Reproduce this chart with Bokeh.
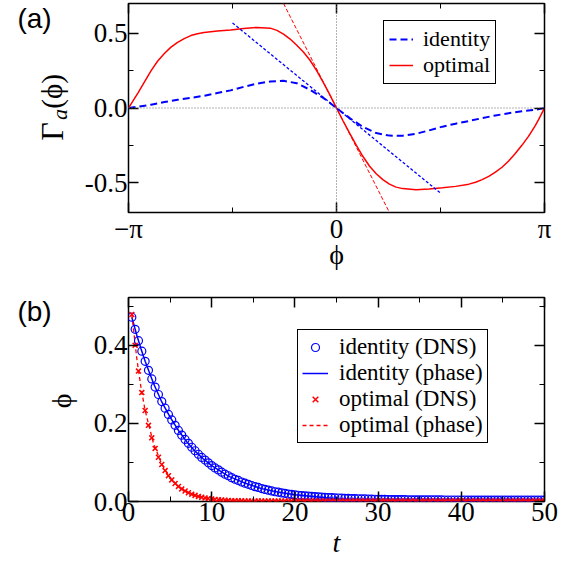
import numpy as np
from bokeh.plotting import figure
from bokeh.models import (Range1d, FixedTicker, LinearAxis, Span, CustomJSTickFormatter,
                          NumeralTickFormatter, Legend, LegendItem)
from bokeh.layouts import column, row
from bokeh.core.properties import value
from bokeh.embed import file_html
from bokeh.resources import INLINE

PI = np.pi
SERIF = "Liberation Serif"
SANS = "Liberation Sans"
BLUE = "#0000ff"
RED = "#ff0000"
PHI = "\u03d5"

# ---------------- panel (a) data ----------------
phi_identity = [-PI, -3.0, -2.8, -2.6, -2.4, -2.2, -2.0, -1.8, -1.6, -1.4, -1.2,
                -1.0, -0.8, -0.6, -0.4, -0.2, 0.0, 0.2, 0.4, 0.6, 0.8, 1.0, 1.2,
                1.4, 1.6, 1.8, 2.0, 2.2, 2.4, 2.6, 2.8, 3.0, PI]
gamma_identity = [0.0, 0.008, 0.022, 0.040, 0.055, 0.068, 0.082, 0.100, 0.118,
                  0.142, 0.163, 0.178, 0.182, 0.166, 0.122, 0.068, 0.0,
                  -0.068, -0.127, -0.168, -0.185, -0.186, -0.173, -0.150,
                  -0.125, -0.105, -0.087, -0.068, -0.050, -0.035, -0.022,
                  -0.012, 0.0]
phi_optimal = [-PI, -3.05, -3.0, -2.9, -2.8, -2.7, -2.6, -2.5, -2.4, -2.3, -2.2,
               -2.1, -2.0, -1.8, -1.6, -1.4, -1.2, -1.0, -0.9, -0.8, -0.7, -0.6,
               -0.5, -0.4, -0.3, -0.2, -0.1, 0.0, 0.1, 0.2, 0.3, 0.4, 0.5, 0.6,
               0.7, 0.8, 0.9, 1.0, 1.2, 1.4, 1.6, 1.8, 2.0, 2.1, 2.2, 2.3, 2.4,
               2.5, 2.6, 2.7, 2.8, 2.9, 3.0, 3.05, PI]
gamma_optimal = [0.0, 0.065, 0.100, 0.175, 0.250, 0.315, 0.365, 0.408, 0.440,
                 0.465, 0.485, 0.497, 0.505, 0.515, 0.523, 0.533, 0.540, 0.535,
                 0.520, 0.495, 0.462, 0.420, 0.375, 0.320, 0.250, 0.172, 0.088,
                 0.0, -0.087, -0.170, -0.250, -0.325, -0.390, -0.440, -0.480,
                 -0.510, -0.530, -0.540, -0.547, -0.543, -0.535, -0.525, -0.510,
                 -0.497, -0.480, -0.458, -0.430, -0.397, -0.355, -0.305, -0.250,
                 -0.190, -0.120, -0.080, 0.0]
tangent_identity_phi = [-PI / 2, PI / 2]
tangent_identity_val = [0.57, -0.57]
tangent_optimal_phi = [-0.80, 0.80]
tangent_optimal_val = [0.70, -0.70]

# ---------------- panel (b) data ----------------
t_dns = np.round(np.arange(1, 126) * 0.4, 1)
phi_identity_dns = [
    0.472, 0.441, 0.412, 0.385, 0.359, 0.336, 0.314, 0.293, 0.274, 0.256,
    0.239, 0.223, 0.209, 0.195, 0.182, 0.170, 0.159, 0.149, 0.139, 0.130,
    0.121, 0.113, 0.106, 0.099, 0.092, 0.086, 0.081, 0.075, 0.070, 0.066,
    0.061, 0.057, 0.054, 0.050, 0.047, 0.044, 0.041, 0.038, 0.036, 0.033,
    0.031, 0.029, 0.027, 0.025, 0.024, 0.022, 0.021, 0.019, 0.018, 0.017,
    0.0160, 0.0152, 0.0145, 0.0138, 0.0131, 0.0125, 0.0119, 0.0113, 0.0108, 0.0103,
    0.0098, 0.0094, 0.0090, 0.0086, 0.0082, 0.0079, 0.0076, 0.0073, 0.0070, 0.0067,
    0.0065, 0.0062, 0.0060, 0.0058, 0.0056, 0.0054, 0.0053, 0.0051, 0.0050, 0.0049,
    0.0048, 0.0047, 0.0046, 0.0045, 0.0044, 0.0043, 0.0043, 0.0042, 0.0042, 0.0041,
    0.0041, 0.0040, 0.0040, 0.0040, 0.0039, 0.0039, 0.0039, 0.0038, 0.0038, 0.0038,
    0.0038, 0.0037, 0.0037, 0.0037, 0.0037, 0.0036, 0.0036, 0.0036, 0.0036, 0.0036,
    0.0035, 0.0035, 0.0035, 0.0035, 0.0035, 0.0034, 0.0034, 0.0034, 0.0034, 0.0034,
    0.0034, 0.0034, 0.0033, 0.0033, 0.0033]
phi_optimal_dns = [
    0.479, 0.400, 0.334, 0.279, 0.233, 0.195, 0.163, 0.136, 0.1135, 0.0948,
    0.0792, 0.0662, 0.0553, 0.0462, 0.0386, 0.0322, 0.0269, 0.0225, 0.0188, 0.0157,
    0.0131, 0.0109, 0.0091, 0.0076, 0.0064, 0.0053, 0.0044, 0.0037, 0.0031, 0.0026,
    0.0022, 0.0019, 0.0017, 0.0016, 0.0015, 0.0014, 0.0013, 0.0013, 0.0012, 0.0012,
    0.0011, 0.0012, 0.0011, 0.0010, 0.0011, 0.0012, 0.0011, 0.0010, 0.0011, 0.0011,
    0.0012, 0.0011, 0.0010, 0.0011, 0.0012, 0.0011, 0.0010, 0.0011, 0.0011, 0.0012,
    0.0011, 0.0010, 0.0011, 0.0012, 0.0011, 0.0010, 0.0011, 0.0011, 0.0012, 0.0011,
    0.0010, 0.0011, 0.0012, 0.0011, 0.0010, 0.0011, 0.0011, 0.0012, 0.0011, 0.0010,
    0.0011, 0.0012, 0.0011, 0.0010, 0.0011, 0.0011, 0.0012, 0.0011, 0.0010, 0.0011,
    0.0012, 0.0011, 0.0010, 0.0011, 0.0011, 0.0012, 0.0011, 0.0010, 0.0011, 0.0012,
    0.0011, 0.0010, 0.0011, 0.0011, 0.0012, 0.0011, 0.0010, 0.0011, 0.0012, 0.0011,
    0.0010, 0.0011, 0.0011, 0.0012, 0.0011, 0.0010, 0.0011, 0.0012, 0.0011, 0.0010,
    0.0011, 0.0011, 0.0012, 0.0011, 0.0010]
t_phase = [0.4, 1, 1.5, 2, 3, 4, 5, 6, 7, 8, 9, 10, 12, 14, 16, 18, 20, 25, 30,
           35, 40, 45, 50]
phi_identity_phase = [0.472, 0.426, 0.391, 0.359, 0.303, 0.255, 0.216, 0.182,
                      0.153, 0.129, 0.109, 0.092, 0.065, 0.047, 0.033, 0.024,
                      0.017, 0.0072, 0.0031, 0.0013, 0.0006, 0.0002, 0.0001]
phi_optimal_phase = [0.479, 0.366, 0.292, 0.233, 0.149, 0.095, 0.060, 0.039,
                     0.025, 0.016, 0.010, 0.0064, 0.0026, 0.0011, 0.0004,
                     0.0002, 0.0001, 0.0, 0.0, 0.0, 0.0, 0.0, 0.0]

SIDE_W = 78
LEFT_B = 128 - SIDE_W
MAIN_W = LEFT_B + 416 + 18


def style_axis(ax, ticks, minor, show_labels=True):
    ax.ticker = FixedTicker(ticks=ticks, minor_ticks=minor)
    ax.axis_line_color = None
    ax.major_tick_in = 10
    ax.major_tick_out = 0
    ax.minor_tick_in = 5
    ax.minor_tick_out = 0
    ax.major_tick_line_color = "black"
    ax.major_tick_line_width = 1.5
    ax.minor_tick_line_color = "black"
    ax.minor_tick_line_width = 1
    ax.major_label_text_font = SERIF
    ax.major_label_text_font_size = "27px"
    ax.major_label_text_color = "black"
    ax.major_label_standoff = 1
    ax.axis_label_text_font = SERIF
    ax.axis_label_text_font_size = "28px"
    ax.axis_label_text_color = "black"
    ax.axis_label_text_font_style = "normal"
    if not show_labels:
        ax.formatter = CustomJSTickFormatter(code="return ''")
        ax.major_label_standoff = 0


def base_fig(height, xr, yr, top, bottom):
    p = figure(width=MAIN_W, height=height, x_range=xr, y_range=yr,
               output_backend="svg", toolbar_location=None,
               min_border_left=LEFT_B, min_border_right=18,
               min_border_top=top, min_border_bottom=bottom)
    p.grid.visible = False
    p.outline_line_color = "black"
    p.outline_line_width = 1.5
    p.outline_line_alpha = 1.0
    p.background_fill_color = "white"
    p.border_fill_color = "white"
    return p


def side_fig(height, yr, top, bottom):
    s = figure(width=SIDE_W, height=height, x_range=Range1d(0, SIDE_W),
               y_range=yr, output_backend="svg", toolbar_location=None,
               min_border_left=0, min_border_right=0,
               min_border_top=top, min_border_bottom=bottom)
    s.xaxis.visible = False
    s.yaxis.visible = False
    s.grid.visible = False
    s.outline_line_color = None
    s.background_fill_color = "white"
    s.border_fill_color = "white"
    return s


def side_text(s, x, y, txt, size, font=SERIF, style="normal", angle=0.0,
              align="center", baseline="middle"):
    s.text(x=[x], y=[y], text=[txt], text_font=value(font),
           text_font_size=value(size), text_font_style=style,
           text_color="black", angle=angle, text_align=align,
           text_baseline=baseline)


# ---------------- panel (a) ----------------
TOP_H, TOP_T, TOP_B = 280, 3, 68
p1 = base_fig(TOP_H, Range1d(-PI, PI), Range1d(-0.7, 0.7), TOP_T, TOP_B)
xt1, xm1 = [-PI, 0.0, PI], [-PI / 2, PI / 2]
yt1, ym1 = [-0.5, 0.0, 0.5], [-0.25, 0.25]
style_axis(p1.xaxis[0], xt1, xm1)
p1.xaxis[0].major_label_overrides = {-PI: "\u2212\u03c0", 0.0: "0", PI: "\u03c0"}
p1.xaxis[0].axis_label = PHI
p1.xaxis[0].axis_label_standoff = -8
style_axis(p1.yaxis[0], yt1, ym1)
p1.yaxis[0].formatter = NumeralTickFormatter(format="0.0")
ax_top = LinearAxis()
style_axis(ax_top, xt1, xm1, show_labels=False)
p1.add_layout(ax_top, "above")
ax_right = LinearAxis()
style_axis(ax_right, yt1, ym1, show_labels=False)
p1.add_layout(ax_right, "right")

p1.add_layout(Span(location=0, dimension="width", line_color="#666666",
                   line_dash="1 2", line_width=1))
p1.add_layout(Span(location=0, dimension="height", line_color="#666666",
                   line_dash="1 2", line_width=1))

r_id = p1.line(phi_identity, gamma_identity, line_color=BLUE, line_width=2,
               line_dash="7 4")
r_opt = p1.line(phi_optimal, gamma_optimal, line_color=RED, line_width=1.5)
p1.line(tangent_identity_phi, tangent_identity_val, line_color=BLUE,
        line_width=1.3, line_dash="3 2")
p1.line(tangent_optimal_phi, tangent_optimal_val, line_color=RED,
        line_width=1, line_dash="4 2")

leg1 = Legend(items=[LegendItem(label="identity", renderers=[r_id]),
                     LegendItem(label="optimal", renderers=[r_opt])],
              location=(255, 128))
leg1.label_text_font = SERIF
leg1.label_text_font_size = "22px"
leg1.label_text_color = "black"
leg1.glyph_width = 24
leg1.glyph_height = 20
leg1.label_height = 25
leg1.label_standoff = 10
leg1.padding = 5
leg1.spacing = 0
leg1.margin = 0
leg1.border_line_color = "black"
leg1.border_line_width = 1
leg1.border_line_alpha = 1
leg1.background_fill_alpha = 1
p1.add_layout(leg1)

s1 = side_fig(TOP_H, Range1d(-0.7, 0.7), TOP_T, TOP_B)
side_text(s1, 34, 0.60, "(a)", "28px", font=SANS)
side_text(s1, 51, -0.22, "\u0393", "32px", angle=PI / 2, align="left")
side_text(s1, 59, -0.08, "a", "22px", style="italic", angle=PI / 2,
          align="left")
side_text(s1, 51, -0.005, "(" + PHI + ")", "29px", angle=PI / 2, align="left")

# ---------------- panel (b) ----------------
BOT_H, BOT_T, BOT_B = 280, 17, 54
p2 = base_fig(BOT_H, Range1d(0, 50), Range1d(0, 0.5225), BOT_T, BOT_B)
xt2, xm2 = [0, 10, 20, 30, 40, 50], [5, 15, 25, 35, 45]
yt2, ym2 = [0.0, 0.2, 0.4], [0.1, 0.3, 0.5]
style_axis(p2.xaxis[0], xt2, xm2)
p2.xaxis[0].axis_label = "t"
p2.xaxis[0].axis_label_text_font_style = "italic"
p2.xaxis[0].axis_label_standoff = 3
style_axis(p2.yaxis[0], yt2, ym2)
p2.yaxis[0].formatter = NumeralTickFormatter(format="0.0")
ax_top2 = LinearAxis()
style_axis(ax_top2, xt2, xm2, show_labels=False)
p2.add_layout(ax_top2, "above")
ax_right2 = LinearAxis()
style_axis(ax_right2, yt2, ym2, show_labels=False)
p2.add_layout(ax_right2, "right")

r_idph = p2.line(t_phase, phi_identity_phase, line_color=BLUE, line_width=1.5)
r_opph = p2.line(t_phase, phi_optimal_phase, line_color=RED, line_width=1.3,
                 line_dash="4 3")
r_iddns = p2.scatter(t_dns, phi_identity_dns, marker="circle", size=8,
                     fill_color=None, line_color=BLUE, line_width=1.2)
r_opdns = p2.scatter(t_dns, phi_optimal_dns, marker="x", size=7,
                     line_color=RED, line_width=1.5)

leg2 = Legend(items=[LegendItem(label="identity (DNS)", renderers=[r_iddns]),
                     LegendItem(label="identity (phase)", renderers=[r_idph]),
                     LegendItem(label="optimal (DNS)", renderers=[r_opdns]),
                     LegendItem(label="optimal (phase)", renderers=[r_opph])],
              location=(169, 58))
leg2.label_text_font = SERIF
leg2.label_text_font_size = "23px"
leg2.label_text_color = "black"
leg2.glyph_width = 26
leg2.glyph_height = 20
leg2.label_height = 26
leg2.label_standoff = 11
leg2.padding = 4
leg2.spacing = 0
leg2.margin = 0
leg2.border_line_color = "black"
leg2.border_line_width = 1
leg2.border_line_alpha = 1
leg2.background_fill_alpha = 1
p2.add_layout(leg2)

s2 = side_fig(BOT_H, Range1d(0, 0.5225), BOT_T, BOT_B)
side_text(s2, 34, 0.4875, "(b)", "28px", font=SANS)
side_text(s2, 61, 0.2575, PHI, "28px", angle=PI / 2)

layout = column(row(s1, p1), row(s2, p2))
open("out.html", "w").write(file_html(layout, INLINE))
